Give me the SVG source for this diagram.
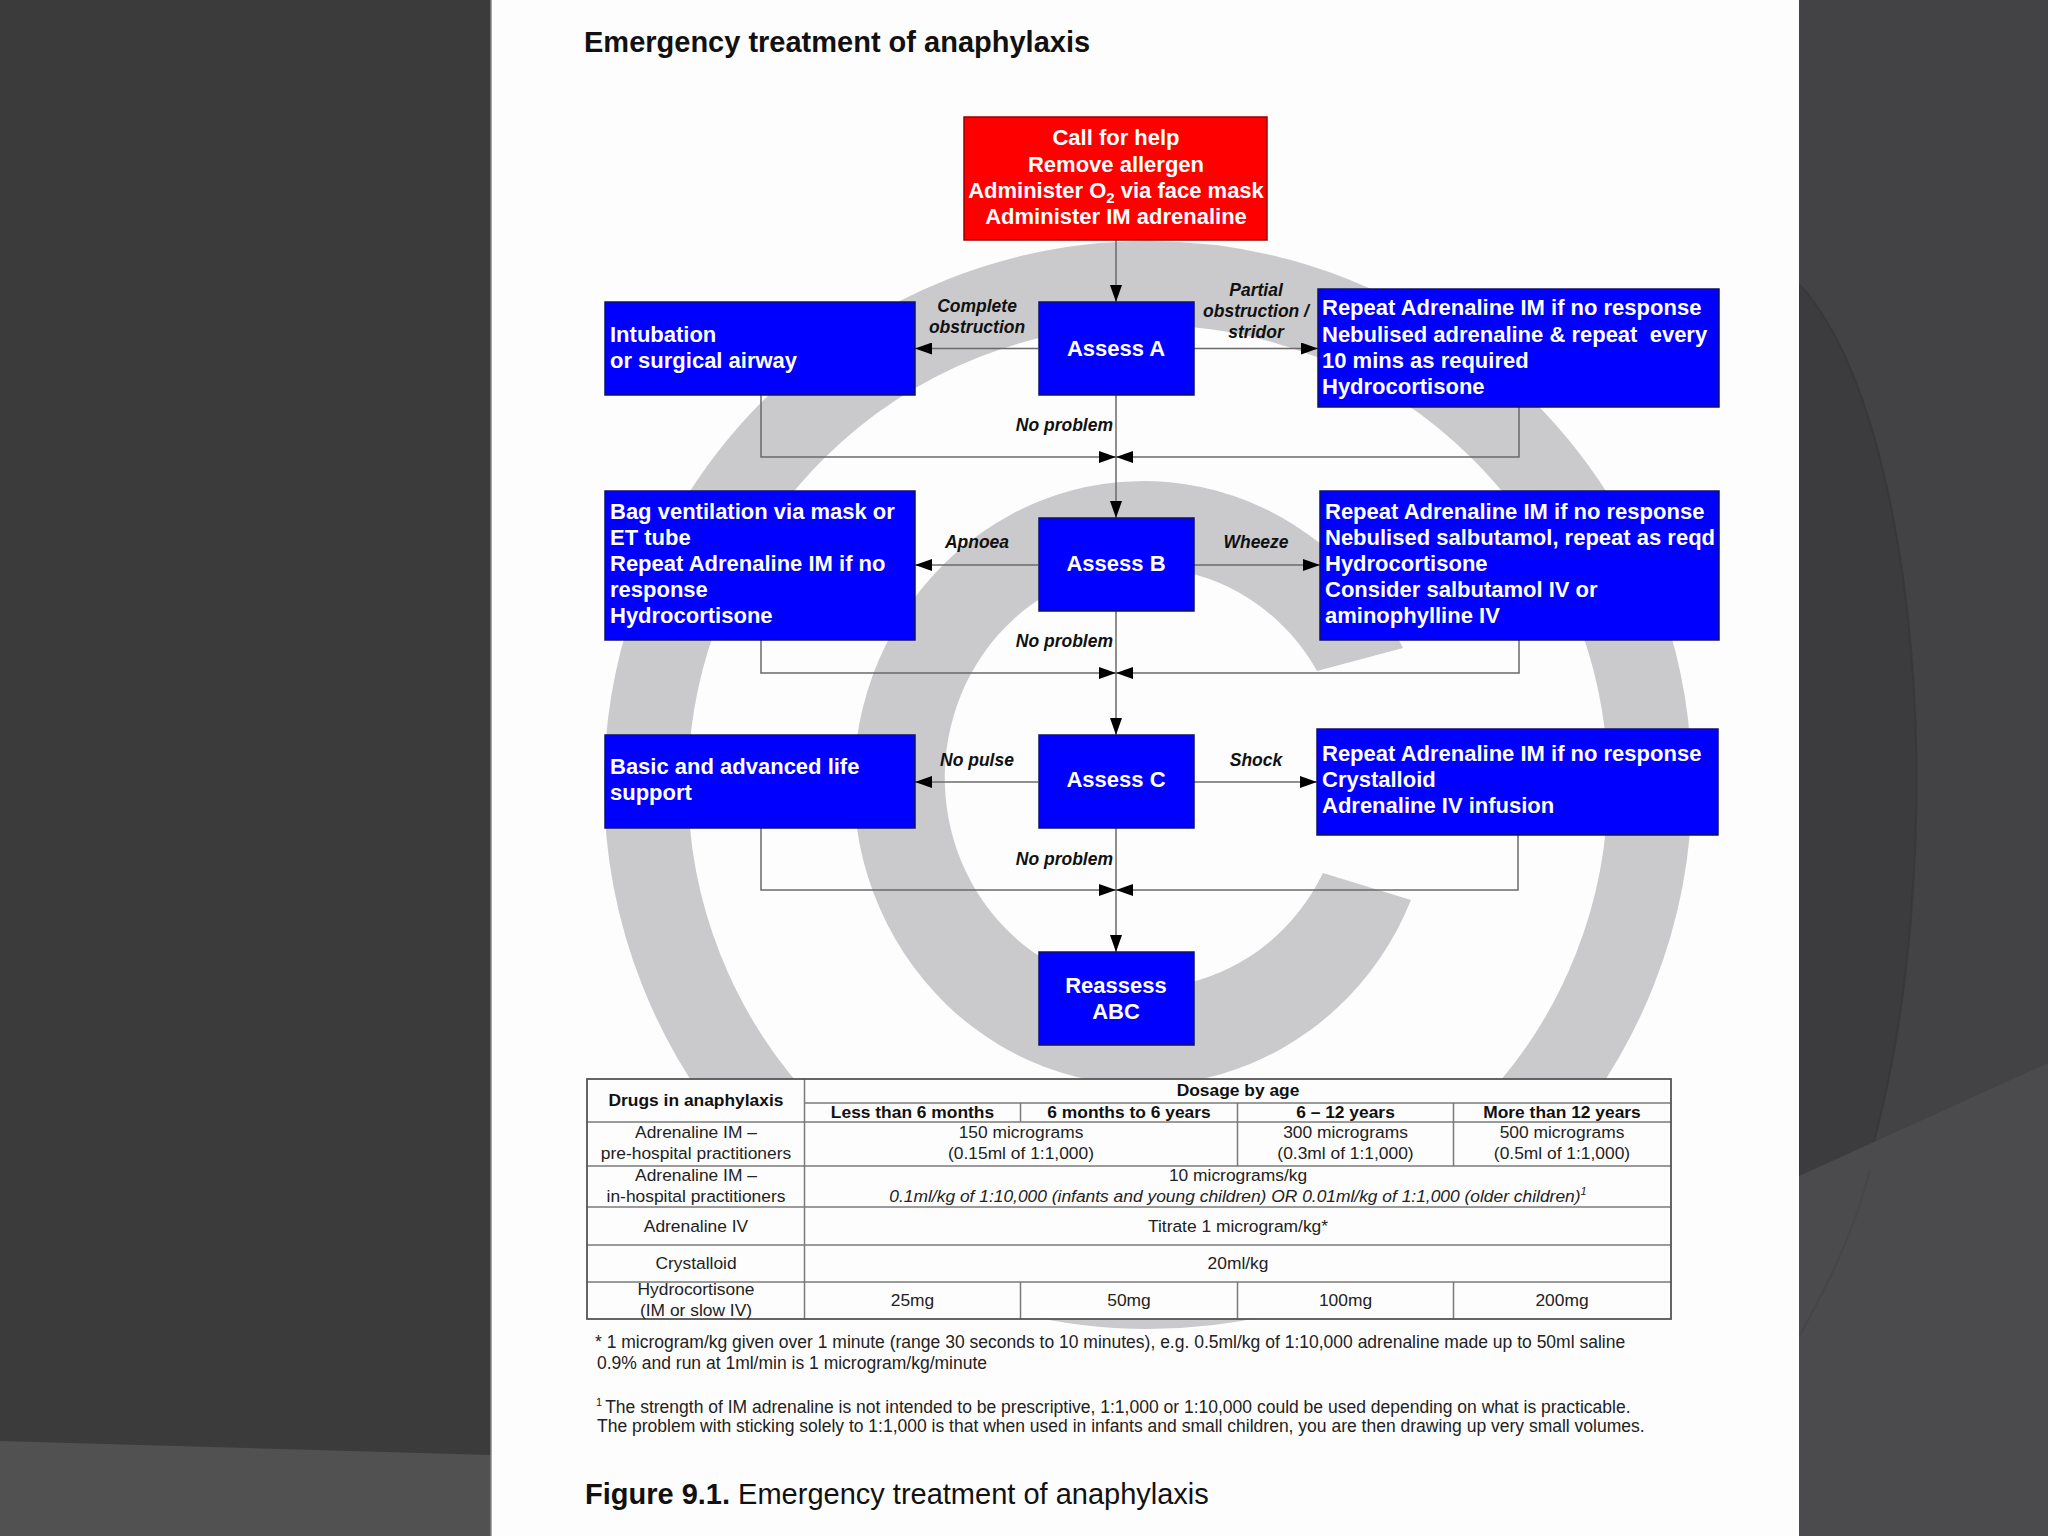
<svg xmlns="http://www.w3.org/2000/svg" width="2048" height="1536" viewBox="0 0 2048 1536">
<defs>
<style>
text{font-family:"Liberation Sans",Arial,sans-serif;}
.title{font-size:29px;font-weight:bold;fill:#111;}
.node{stroke:#10106a;stroke-width:1.5;fill:#0000ff;}
.red{stroke:#9a0000;stroke-width:1.5;fill:#ff0000;}
.wt{font-size:22px;font-weight:bold;fill:#ffffff;white-space:pre;}
.wc{font-size:22px;font-weight:bold;fill:#ffffff;text-anchor:middle;}
.lbl{font-size:17.5px;font-weight:bold;font-style:italic;fill:#111;}
.mid{text-anchor:middle;}
.end{text-anchor:end;}
.conn{stroke:#6a6a6a;stroke-width:1.5;fill:none;}
.arr{marker-end:url(#ah);}
.tb{stroke:#7a7a7a;stroke-width:1.5;fill:none;}
.tbo{stroke:#555;stroke-width:1.8;fill:none;}
.tt{font-size:17.4px;fill:#222;text-anchor:middle;}
.th{font-size:17.4px;font-weight:bold;fill:#111;text-anchor:middle;}
.fn{font-size:17.5px;fill:#222;}
.wm{fill:#cacacc;}
</style>
<marker id="ah" markerUnits="userSpaceOnUse" markerWidth="17" markerHeight="12" refX="17" refY="6" orient="auto">
<path d="M0,0 L17,6 L0,12 Z" fill="#000"/>
</marker>
</defs>

<g id="background">
<rect x="0" y="0" width="491" height="1536" fill="#3b3b3b"/>
<path d="M0,1441 L491,1455 L491,1536 L0,1536 Z" fill="#515151"/>
<rect x="1799" y="0" width="249" height="1536" fill="#434244"/>
<path d="M1799,284 C1880,370 1922,600 1916,823 C1910,1040 1870,1200 1799,1337 Z" fill="#3c3b3d" stroke="#363537" stroke-width="2" stroke-opacity="0.7"/>
<path d="M1799,1176 L2048,1063 L2048,1536 L1799,1536 Z" fill="#4b4a4c"/>
<path d="M1799,1337 C1830,1280 1855,1230 1870,1170" fill="none" stroke="#434244" stroke-width="2" stroke-opacity="0.6"/>
<rect x="491" y="0" width="1308" height="1536" fill="#fdfdfd"/>
<line x1="491" y1="0" x2="491" y2="1536" stroke="#8a8a8a" stroke-width="1.5"/>
</g>

<g id="watermark">
<circle cx="1148" cy="785" r="502" fill="none" stroke="#cacacc" stroke-width="84"/>
<path class="wm" d="M1403,648 A290,302 0 1 0 1411,900 L1323,873 A200,210 0 1 1 1317,671 Z"/>
</g>

<text class="title" x="584" y="52">Emergency treatment of anaphylaxis</text>

<g id="connectors">
<line class="conn arr" x1="1116" y1="240" x2="1116" y2="302"/>
<line class="conn arr" x1="1038" y1="348.5" x2="915" y2="348.5"/>
<line class="conn arr" x1="1194" y1="348.5" x2="1318" y2="348.5"/>
<line class="conn arr" x1="1116" y1="395" x2="1116" y2="518"/>
<polyline class="conn arr" points="761,395 761,457 1116,457"/>
<polyline class="conn arr" points="1519,407 1519,457 1116,457"/>
<line class="conn arr" x1="1038" y1="565" x2="915" y2="565"/>
<line class="conn arr" x1="1194" y1="565" x2="1320" y2="565"/>
<line class="conn arr" x1="1116" y1="611" x2="1116" y2="735"/>
<polyline class="conn arr" points="761,640 761,673 1116,673"/>
<polyline class="conn arr" points="1519,640 1519,673 1116,673"/>
<line class="conn arr" x1="1038" y1="782" x2="915" y2="782"/>
<line class="conn arr" x1="1194" y1="782" x2="1317" y2="782"/>
<line class="conn arr" x1="1116" y1="828" x2="1116" y2="952"/>
<polyline class="conn arr" points="761,828 761,890 1116,890"/>
<polyline class="conn arr" points="1518,835 1518,890 1116,890"/>
<g id="edge-labels">
<text class="lbl mid" x="977" y="312">Complete</text>
<text class="lbl mid" x="977" y="333">obstruction</text>
<text class="lbl mid" x="1256" y="296">Partial</text>
<text class="lbl mid" x="1256" y="317">obstruction /</text>
<text class="lbl mid" x="1256" y="337.5">stridor</text>
<text class="lbl end" x="1113" y="430.5">No problem</text>
<text class="lbl mid" x="977" y="548">Apnoea</text>
<text class="lbl mid" x="1256" y="548">Wheeze</text>
<text class="lbl end" x="1113" y="647">No problem</text>
<text class="lbl mid" x="977" y="765.5">No pulse</text>
<text class="lbl mid" x="1256" y="765.5">Shock</text>
<text class="lbl end" x="1113" y="864.5">No problem</text>
</g>
</g>

<g id="node-start">
<rect class="red" x="964" y="117" width="303" height="123"/>
<text class="wc" x="1116" y="145">Call for help</text>
<text class="wc" x="1116" y="171.5">Remove allergen</text>
<text class="wc" x="1116" y="197.5">Administer O<tspan font-size="15" dy="5">2</tspan><tspan dy="-5"> via face mask</tspan></text>
<text class="wc" x="1116" y="224">Administer IM adrenaline</text>
</g>

<g id="node-intubation">
<rect class="node" x="605" y="302" width="310" height="93"/>
<text class="wt" x="610" y="342">Intubation</text>
<text class="wt" x="610" y="367.5">or surgical airway</text>
</g>
<g id="node-assess-a">
<rect class="node" x="1039" y="302" width="155" height="93"/>
<text class="wc" x="1116" y="356">Assess A</text>
</g>
<g id="node-airway-partial">
<rect class="node" x="1318" y="289" width="401" height="118"/>
<text class="wt" x="1322" y="315">Repeat Adrenaline IM if no response</text>
<text class="wt" x="1322" y="341.5">Nebulised adrenaline &amp; repeat  every</text>
<text class="wt" x="1322" y="367.5">10 mins as required</text>
<text class="wt" x="1322" y="394">Hydrocortisone</text>
</g>

<g id="node-bag">
<rect class="node" x="605" y="491" width="310" height="149"/>
<text class="wt" x="610" y="518.5">Bag ventilation via mask or</text>
<text class="wt" x="610" y="544.5">ET tube</text>
<text class="wt" x="610" y="570.5">Repeat Adrenaline IM if no</text>
<text class="wt" x="610" y="596.5">response</text>
<text class="wt" x="610" y="622.5">Hydrocortisone</text>
</g>
<g id="node-assess-b">
<rect class="node" x="1039" y="518" width="155" height="93"/>
<text class="wc" x="1116" y="571">Assess B</text>
</g>
<g id="node-wheeze">
<rect class="node" x="1320" y="491" width="399" height="149"/>
<text class="wt" x="1325" y="518.5">Repeat Adrenaline IM if no response</text>
<text class="wt" x="1325" y="544.5">Nebulised salbutamol, repeat as reqd</text>
<text class="wt" x="1325" y="570.5">Hydrocortisone</text>
<text class="wt" x="1325" y="596.5">Consider salbutamol IV or</text>
<text class="wt" x="1325" y="622.5">aminophylline IV</text>
</g>

<g id="node-life-support">
<rect class="node" x="605" y="735" width="310" height="93"/>
<text class="wt" x="610" y="774">Basic and advanced life</text>
<text class="wt" x="610" y="800">support</text>
</g>
<g id="node-assess-c">
<rect class="node" x="1039" y="735" width="155" height="93"/>
<text class="wc" x="1116" y="787">Assess C</text>
</g>
<g id="node-shock">
<rect class="node" x="1317" y="729" width="401" height="106"/>
<text class="wt" x="1322" y="761">Repeat Adrenaline IM if no response</text>
<text class="wt" x="1322" y="787">Crystalloid</text>
<text class="wt" x="1322" y="813">Adrenaline IV infusion</text>
</g>

<g id="node-reassess">
<rect class="node" x="1039" y="952" width="155" height="93"/>
<text class="wc" x="1116" y="993">Reassess</text>
<text class="wc" x="1116" y="1018.5">ABC</text>
</g>

<g id="table">
<rect x="587" y="1079" width="1084" height="240" fill="#fdfdfd"/>
<g class="tb">
<line x1="804.5" y1="1103" x2="1671" y2="1103"/>
<line x1="587" y1="1122" x2="1671" y2="1122"/>
<line x1="587" y1="1166" x2="1671" y2="1166"/>
<line x1="587" y1="1207" x2="1671" y2="1207"/>
<line x1="587" y1="1245" x2="1671" y2="1245"/>
<line x1="587" y1="1282" x2="1671" y2="1282"/>
<line x1="804.5" y1="1079" x2="804.5" y2="1319"/>
<line x1="1020.5" y1="1103" x2="1020.5" y2="1122"/>
<line x1="1237.5" y1="1103" x2="1237.5" y2="1166"/>
<line x1="1453.5" y1="1103" x2="1453.5" y2="1166"/>
<line x1="1020.5" y1="1282" x2="1020.5" y2="1319"/>
<line x1="1237.5" y1="1282" x2="1237.5" y2="1319"/>
<line x1="1453.5" y1="1282" x2="1453.5" y2="1319"/>
</g>
<rect class="tbo" x="587" y="1079" width="1084" height="240"/>
<text class="th" x="696" y="1106">Drugs in anaphylaxis</text>
<text class="th" x="1238" y="1096">Dosage by age</text>
<text class="th" x="912.5" y="1118">Less than 6 months</text>
<text class="th" x="1129" y="1118">6 months to 6 years</text>
<text class="th" x="1345.5" y="1118">6 – 12 years</text>
<text class="th" x="1562" y="1118">More than 12 years</text>
<text class="tt" x="696" y="1138">Adrenaline IM –</text>
<text class="tt" x="696" y="1158.5">pre-hospital practitioners</text>
<text class="tt" x="1021" y="1138">150 micrograms</text>
<text class="tt" x="1021" y="1158.5">(0.15ml of 1:1,000)</text>
<text class="tt" x="1345.5" y="1138">300 micrograms</text>
<text class="tt" x="1345.5" y="1158.5">(0.3ml of 1:1,000)</text>
<text class="tt" x="1562" y="1138">500 micrograms</text>
<text class="tt" x="1562" y="1158.5">(0.5ml of 1:1,000)</text>
<text class="tt" x="696" y="1181">Adrenaline IM –</text>
<text class="tt" x="696" y="1202">in-hospital practitioners</text>
<text class="tt" x="1238" y="1181">10 micrograms/kg</text>
<text class="tt" x="1238" y="1202" font-style="italic">0.1ml/kg of 1:10,000 (infants and young children) OR 0.01ml/kg of 1:1,000 (older children)<tspan font-size="11" dy="-7">1</tspan></text>
<text class="tt" x="696" y="1232">Adrenaline IV</text>
<text class="tt" x="1238" y="1232">Titrate 1 microgram/kg*</text>
<text class="tt" x="696" y="1269">Crystalloid</text>
<text class="tt" x="1238" y="1269">20ml/kg</text>
<text class="tt" x="696" y="1295">Hydrocortisone</text>
<text class="tt" x="696" y="1316">(IM or slow IV)</text>
<text class="tt" x="912.5" y="1306">25mg</text>
<text class="tt" x="1129" y="1306">50mg</text>
<text class="tt" x="1345.5" y="1306">100mg</text>
<text class="tt" x="1562" y="1306">200mg</text>
</g>

<g id="footnotes">
<text class="fn" x="595" y="1348">* 1 microgram/kg given over 1 minute (range 30 seconds to 10 minutes), e.g. 0.5ml/kg of 1:10,000 adrenaline made up to 50ml saline</text>
<text class="fn" x="597" y="1368.5">0.9% and run at 1ml/min is 1 microgram/kg/minute</text>
<text class="fn" x="596" y="1413"><tspan font-size="11" dy="-7">1</tspan><tspan dx="3" dy="7">The strength of IM adrenaline is not intended to be prescriptive, 1:1,000 or 1:10,000 could be used depending on what is practicable.</tspan></text>
<text class="fn" x="597" y="1431.5">The problem with sticking solely to 1:1,000 is that when used in infants and small children, you are then drawing up very small volumes.</text>
<text x="585" y="1504" font-size="29" fill="#111"><tspan font-weight="bold">Figure 9.1.</tspan> Emergency treatment of anaphylaxis</text>
</g>
</svg>
